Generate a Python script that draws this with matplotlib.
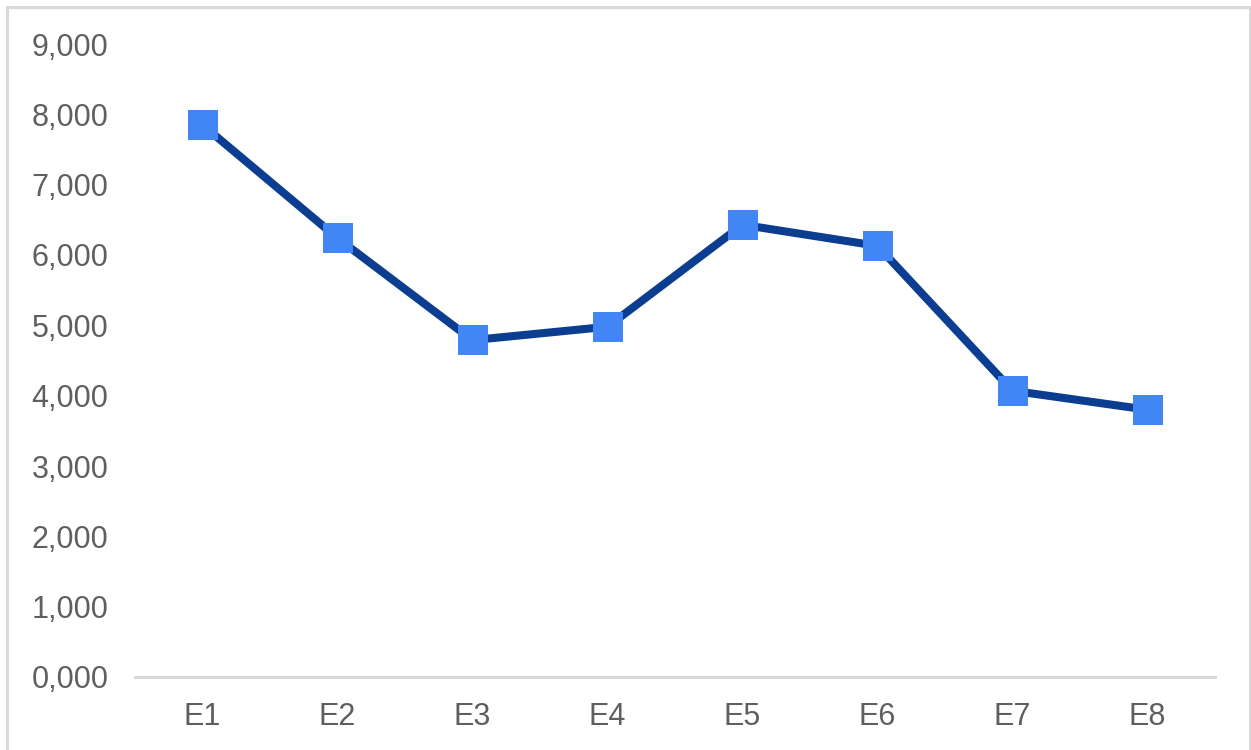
import matplotlib.pyplot as plt
from matplotlib.patches import Rectangle
from matplotlib.ticker import FuncFormatter

categories = ['E1', 'E2', 'E3', 'E4', 'E5', 'E6', 'E7', 'E8']
values = [7850, 6240, 4790, 4980, 6430, 6130, 4070, 3800]

plt.rcParams['font.family'] = ['Liberation Sans', 'DejaVu Sans']

fig = plt.figure(figsize=(12.51, 7.5), dpi=100)
ax = fig.add_axes([135/1251, 73/750, 1080/1251, 633/750])

x = range(len(categories))
ax.plot(x, values, color='#0b3d91', linewidth=5.8, marker='s',
        markersize=22, markerfacecolor='#4285f4', markeredgecolor='#4285f4',
        markeredgewidth=0, clip_on=False, zorder=3)

ax.set_xlim(-0.5, len(categories) - 0.5)
ax.set_ylim(0, 9000)
ax.set_yticks(range(0, 9001, 1000))
ax.yaxis.set_major_formatter(FuncFormatter(
    lambda v, p: '0,000' if v == 0 else f'{int(v):,}'))
ax.set_xticks(list(x))
ax.set_xticklabels(categories)

ax.tick_params(axis='both', length=0, labelsize=22, labelcolor='#5f5f5f')
ax.tick_params(axis='y', pad=19)
ax.tick_params(axis='x', pad=18)

for s in ['top', 'right', 'left']:
    ax.spines[s].set_visible(False)
ax.spines['bottom'].set_color('#d9d9d9')
ax.spines['bottom'].set_linewidth(2.2)

# outer chart border
fig.patches.append(Rectangle((7/1251, -0.05), 1243/1251, 1.05 - 7/750,
                             transform=fig.transFigure, fill=False,
                             edgecolor='#d9d9d9', linewidth=2.2))

fig.savefig('out.png', dpi=100)
